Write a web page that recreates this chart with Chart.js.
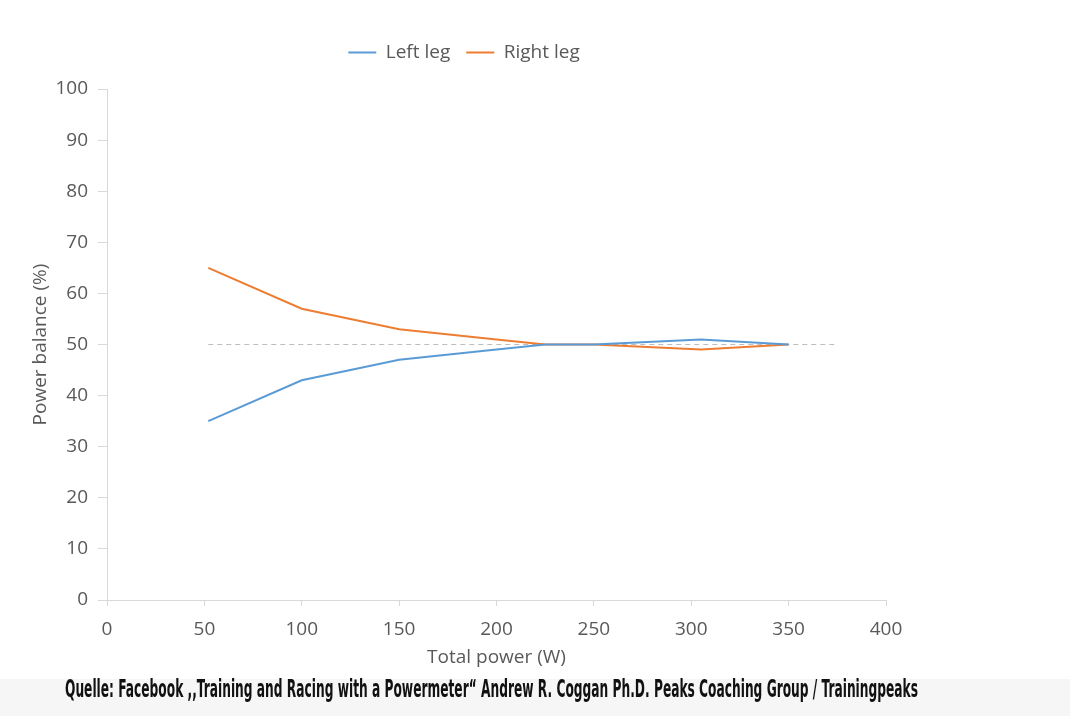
<!DOCTYPE html>
<html>
<head>
<meta charset="utf-8">
<script src="https://cdn.jsdelivr.net/npm/chart.js@4.4.1/dist/chart.umd.min.js"></script>
<style>
  html, body { margin: 0; padding: 0; background: #ffffff; }
  #wrap { position: relative; width: 1070px; height: 716px; overflow: hidden; }
  #c { position: absolute; left: 0; top: 0; }
  #band { position: absolute; left: 0; top: 679px; width: 1070px; height: 37px; background: #f6f6f6; }
  #cap { position: absolute; left: 65px; top: 677px; white-space: nowrap; transform-origin: 0 0;
         font-family: "Liberation Sans Narrow", "DejaVu Sans Condensed", "Liberation Sans", sans-serif;
         font-weight: bold; font-size: 24px; color: #111; line-height: 25px; }
</style>
</head>
<body>
<div id="wrap">
  <canvas id="c" width="1070" height="716"></canvas>
  <div id="band"></div>
  <div id="cap">Quelle: Facebook ,,Training and Racing with a Powermeter“ Andrew R. Coggan Ph.D. Peaks Coaching Group / Trainingpeaks</div>
</div>
<script>
// ---- data ----
const totalPower = [52, 100, 150, 200, 225, 250, 305, 350];
const leftLeg    = [35, 43, 47, 49, 50, 50, 51, 50];
const rightLeg   = [65, 57, 53, 51, 50, 50, 49, 50];
const refLineX   = [52, 375];
const refLineY   = [50, 50];
const seriesNames = ['Left leg', 'Right leg'];
const xTitle = 'Total power (W)';
const yTitle = 'Power balance (%)';

const pts = (xs, ys) => xs.map((x, i) => ({ x: x, y: ys[i] }));
const gray = '#595959';
const font = { family: '"Open Sans", "Liberation Sans", sans-serif', size: 19 };

const legendSpacer = {
  id: 'legendSpacer',
  beforeInit(chart) {
    const lg = chart.legend;
    if (lg && !lg._patched) {
      const origFit = lg.fit;
      lg.fit = function () { origFit.call(this); this.height += 17; };
      lg._patched = true;
    }
  },
  afterLayout(chart) {
    const lg = chart.legend;
    if (lg) { lg.left += 21; lg.right += 21; }
  }
};

new Chart(document.getElementById('c'), {
  type: 'line',
  data: {
    datasets: [
      { label: seriesNames[0], data: pts(totalPower, leftLeg), borderColor: '#5b9bd5', backgroundColor: '#5b9bd5',
        borderWidth: 2, pointRadius: 0, tension: 0 },
      { label: seriesNames[1], data: pts(totalPower, rightLeg), borderColor: '#ed7d31', backgroundColor: '#ed7d31',
        borderWidth: 2, pointRadius: 0, tension: 0 },
      { label: 'ref', data: pts(refLineX, refLineY), borderColor: '#bdbdbd', borderWidth: 1, borderDash: [5, 4],
        pointRadius: 0 }
    ]
  },
  plugins: [legendSpacer],
  options: {
    responsive: false,
    animation: false,
    devicePixelRatio: 1,
    layout: { padding: { left: 0, right: 184, top: 27, bottom: 36 } },
    plugins: {
      legend: {
        position: 'top',
        labels: {
          filter: (item) => item.text !== 'ref',
          usePointStyle: true, pointStyle: 'line', pointStyleWidth: 28, boxHeight: 2,
          color: gray, font: font, padding: 16
        }
      },
      tooltip: { enabled: false }
    },
    scales: {
      x: {
        type: 'linear', min: 0, max: 400,
        ticks: { stepSize: 50, color: gray, font: font, padding: 12, maxRotation: 0 },
        grid: { display: true, drawOnChartArea: false, drawTicks: true, tickLength: 6, color: '#d9d9d9' },
        border: { display: true, color: '#d9d9d9', width: 1 },
        title: { display: true, text: xTitle, color: gray, font: font, padding: { top: 4, bottom: 11 } },
        afterFit: (s) => { s.height = 80; }
      },
      y: {
        min: 0, max: 100,
        ticks: { stepSize: 10, color: gray, font: font, padding: 10 },
        grid: { display: true, drawOnChartArea: false, drawTicks: true, tickLength: 9, color: '#d9d9d9' },
        border: { display: true, color: '#d9d9d9', width: 1 },
        title: { display: true, text: yTitle, color: gray, font: font, padding: { top: 29, bottom: 0 } },
        afterFit: (s) => { s.width = 107; }
      }
    }
  }
});

// fit caption width to the reference span (x 65 .. 918)
const cap = document.getElementById('cap');
const w = cap.getBoundingClientRect().width;
cap.style.transform = 'scaleX(' + (853 / w) + ')';
</script>
</body>
</html>
